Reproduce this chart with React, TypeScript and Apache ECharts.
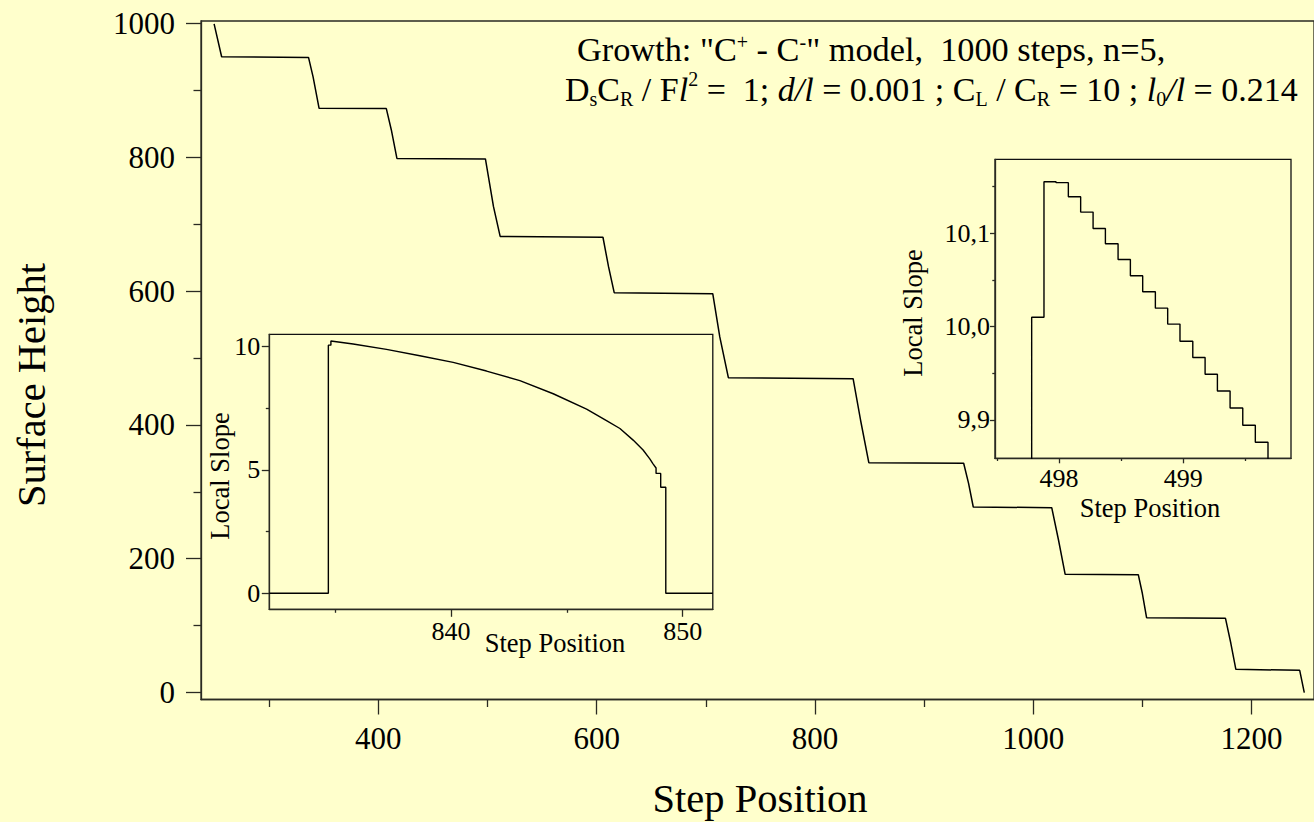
import React, { useEffect, useRef } from 'react';
import * as echarts from 'echarts';

// ---- Main chart: surface profile (step position vs surface height)
const mainX = [249.5, 256.4, 336.0, 340.2, 345.7, 407.3, 411.9, 417.0, 498.1, 505.5, 511.6, 605.8, 610.9, 616.1, 706.4, 712.8, 720.7, 835.0, 841.8, 849.4, 936.3, 940.8, 945.1, 1017.0, 1023.2, 1029.3, 1096.3, 1100.0, 1103.9, 1176.2, 1181.1, 1185.7, 1244.2, 1248.4];
const mainY = [999, 950, 949, 920, 873, 872.5, 840.6, 798, 797.3, 726, 681.5, 680.3, 636.4, 597.5, 596, 531.8, 470.5, 469, 407.3, 343.5, 342.6, 312.7, 277.3, 276.3, 228, 176.7, 176.2, 148.4, 111.9, 111, 73.7, 34.8, 33.3, 0];

// ---- Inset 1: local slope of the bunch near 835-850
const inset1X = [832.15, 834.70, 834.70, 834.81, 834.81, 835.77, 837.21, 838.65, 840.09, 841.53, 842.97, 844.41, 845.85, 846.71, 847.29, 847.86, 848.29, 848.58, 848.72, 848.85, 848.85, 849.05, 849.05, 849.27, 849.27, 851.30];
const inset1Y = [0, 0, 10.06, 10.06, 10.23, 10.105, 9.89, 9.63, 9.36, 9.01, 8.62, 8.09, 7.47, 7.0, 6.68, 6.21, 5.81, 5.45, 5.25, 5.08, 4.86, 4.86, 4.30, 4.30, 0, 0];

// ---- Inset 2: local slope near 498-499 (stepwise)
const inset2X = [497.70, 497.78, 497.879, 497.976, 498.075, 498.174, 498.274, 498.373, 498.475, 498.574, 498.673, 498.775, 498.874, 498.973, 499.076, 499.175, 499.274, 499.376, 499.478, 499.579, 499.681];
const inset2Y = [9.80, 10.01, 10.155, 10.154, 10.139, 10.1225, 10.105, 10.0886, 10.0718, 10.0543, 10.0372, 10.0197, 10.0026, 9.9843, 9.9668, 9.949, 9.9311, 9.9129, 9.8943, 9.8761, 9.80];

// ---- Tick values
const mainXTicks = [400, 600, 800, 1000, 1200];
const mainXMinor = [300, 500, 700, 900, 1100];
const mainYTicks = [0, 200, 400, 600, 800, 1000];
const mainYMinor = [100, 300, 500, 700, 900];
const in1XTicks = [840, 850];
const in1XMinor = [835, 845];
const in1YTicks = [0, 5, 10];
const in1YMinor = [2.5, 7.5];
const in2XTicks = [498, 499];
const in2XMinor = [497.5, 498.5, 499.5];
const in2YTicks = [9.9, 10.0, 10.1];
const in2YMinor = [9.95, 10.05, 10.15];

const FONT = '"Liberation Serif", "Times New Roman", serif';
const BG = '#ffffcc';
const AXIS = '#2a2a22';

function pairs(xs: number[], ys: number[]) {
  return xs.map((x, i) => [x, ys[i]]);
}

function axis(o: any) {
  return {
    type: 'value',
    gridIndex: o.grid,
    position: o.pos,
    min: o.min,
    max: o.max,
    axisLine: { show: o.line !== false, onZero: false, lineStyle: { color: AXIS, width: o.lw || 1.3 } },
    axisTick: {
      show: true,
      inside: false,
      length: o.len,
      customValues: o.ticks,
      lineStyle: { color: AXIS, width: o.lw || 1.3 },
    },
    axisLabel: o.labels
      ? {
          show: true,
          customValues: o.ticks,
          margin: o.margin,
          color: '#000',
          fontFamily: FONT,
          fontSize: o.size,
          formatter: o.formatter || ((v: number) => String(v)),
        }
      : { show: false },
    splitLine: { show: false },
  };
}

function label(text: string, x: number, y: number, size: number, rotate = false) {
  return {
    type: 'text',
    x,
    y,
    rotation: rotate ? Math.PI / 2 : 0,
    z: 100,
    style: {
      text,
      fill: '#000',
      fontFamily: FONT,
      fontSize: size,
      align: 'center',
      verticalAlign: 'middle',
    },
  };
}

const ANN1 = 34.3;
const ANN2 = 34;
const base = { fontFamily: FONT, fill: '#000', color: '#000' };
const rich1 = {
  n: { ...base, fontSize: ANN1, lineHeight: 34, verticalAlign: 'middle' },
  sup: { ...base, fontSize: 20, lineHeight: 18, verticalAlign: 'top' },
};
const rich2 = {
  n: { ...base, fontSize: ANN2, lineHeight: 40, verticalAlign: 'middle' },
  i: { ...base, fontSize: ANN2, fontStyle: 'italic', lineHeight: 40, verticalAlign: 'middle' },
  sup: { ...base, fontSize: 20, lineHeight: 28, verticalAlign: 'top' },
  sub: { ...base, fontSize: 20, lineHeight: 14, verticalAlign: 'bottom' },
};

export default function App() {
  const ref = useRef<HTMLDivElement>(null);
  useEffect(() => {
    if (!ref.current) return;
    const chart = echarts.init(ref.current, undefined, { renderer: 'svg' });
    const option: any = {
      animation: false,
      backgroundColor: BG,
      grid: [
        { left: 201, top: 21, right: -2, bottom: 122.5, show: true, borderColor: AXIS, borderWidth: 1.3, backgroundColor: 'transparent' },
        { left: 269.3, top: 334.3, width: 443.5, height: 275, show: true, borderColor: '#111', borderWidth: 1.3, backgroundColor: BG },
        { left: 995, top: 159.3, width: 296, height: 299, show: true, borderColor: '#111', borderWidth: 1.3, backgroundColor: BG },
      ],
      xAxis: [
        axis({ grid: 0, pos: 'bottom', min: 237.5, max: 1257.3, ticks: mainXTicks, len: 15, labels: true, size: 31, margin: 23 }),
        axis({ grid: 0, pos: 'bottom', min: 237.5, max: 1257.3, ticks: mainXMinor, len: 7.5, line: false }),
        axis({ grid: 1, pos: 'bottom', min: 832.15, max: 851.3, ticks: in1XTicks, len: 7.5, labels: true, size: 26, margin: 9 }),
        axis({ grid: 1, pos: 'bottom', min: 832.15, max: 851.3, ticks: in1XMinor, len: 3.5, line: false }),
        axis({ grid: 2, pos: 'bottom', min: 497.485, max: 499.866, ticks: in2XTicks, len: 5, labels: true, size: 26, margin: 7 }),
        axis({ grid: 2, pos: 'bottom', min: 497.485, max: 499.866, ticks: in2XMinor, len: 2.7, line: false }),
      ],
      yAxis: [
        axis({ grid: 0, pos: 'left', min: -10.3, max: 1003.4, ticks: mainYTicks, len: 15, labels: true, size: 31, margin: 26 }),
        axis({ grid: 0, pos: 'left', min: -10.3, max: 1003.4, ticks: mainYMinor, len: 7.5, line: false }),
        axis({ grid: 1, pos: 'left', min: -0.65, max: 10.5, ticks: in1YTicks, len: 7.5, labels: true, size: 26, margin: 9 }),
        axis({ grid: 1, pos: 'left', min: -0.65, max: 10.5, ticks: in1YMinor, len: 3.5, line: false }),
        axis({
          grid: 2, pos: 'left', min: 9.859, max: 10.179, ticks: in2YTicks, len: 5, labels: true, size: 26, margin: 5,
          formatter: (v: number) => v.toFixed(1).replace('.', ','),
        }),
        axis({ grid: 2, pos: 'left', min: 9.859, max: 10.179, ticks: in2YMinor, len: 2.7, line: false }),
      ],
      series: [
        {
          type: 'line', xAxisIndex: 0, yAxisIndex: 0, data: pairs(mainX, mainY),
          symbol: 'none', lineStyle: { color: '#000', width: 1.5 }, clip: true, z: 5,
        },
        {
          type: 'line', xAxisIndex: 2, yAxisIndex: 2, data: pairs(inset1X, inset1Y),
          symbol: 'none', lineStyle: { color: '#000', width: 1.4 }, clip: true, z: 5,
        },
        {
          type: 'line', xAxisIndex: 4, yAxisIndex: 4, data: pairs(inset2X, inset2Y), step: 'end',
          symbol: 'none', lineStyle: { color: '#000', width: 1.4 }, clip: true, z: 5,
        },
      ],
      graphic: [
        label('Surface Height', 31, 385, 40.5, true),
        label('Step Position', 760, 798, 40.5),
        label('Local Slope', 220, 476, 26.5, true),
        label('Step Position', 555, 643, 26.5),
        label('Local Slope', 913, 313, 26.5, true),
        label('Step Position', 1150, 507.5, 26.5),
        {
          type: 'text', x: 577, y: 49, z: 100,
          style: {
            text: '{n|Growth: "C}{sup|+}{n| - C}{sup|-}{n|" model,  1000 steps, n=5,}',
            rich: rich1, fontFamily: FONT, fontSize: ANN1, fill: '#000', align: 'left', verticalAlign: 'middle',
          },
        },
        {
          type: 'text', x: 565, y: 89, z: 100,
          style: {
            text: '{n|D}{sub|s}{n|C}{sub|R}{n| / F}{i|l}{sup|2}{n| =  1; }{i|d/l}{n| = 0.001 ; C}{sub|L}{n| / C}{sub|R}{n| = 10 ; }{i|l}{sub|0}{i|/l}{n| = 0.214}',
            rich: rich2, fontFamily: FONT, fontSize: ANN2, fill: '#000', align: 'left', verticalAlign: 'middle',
          },
        },
      ],
    };
    chart.setOption(option);
    return () => chart.dispose();
  }, []);
  return <div ref={ref} style={{ position: 'absolute', left: 0, top: 0, width: 1314, height: 822 }} />;
}
